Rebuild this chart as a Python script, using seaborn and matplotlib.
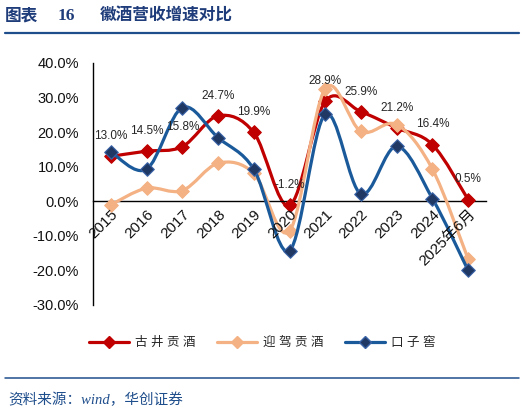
import numpy as np
import pandas as pd
import matplotlib
matplotlib.use("Agg")
import matplotlib.pyplot as plt
import seaborn as sns
from matplotlib.path import Path
from matplotlib.patches import PathPatch
from matplotlib.lines import Line2D

categories = ["2015", "2016", "2017", "2018", "2019", "2020", "2021", "2022", "2023", "2024", "2025年6月"]
gujing = [13.0, 14.5, 15.8, 24.7, 19.9, -1.2, 28.9, 25.9, 21.2, 16.4, 0.5]
yingjia = [-1.0, 3.8, 3.1, 11.0, 8.1, -8.6, 32.6, 20.2, 22.2, 9.3, -16.7]
kouzijiao = [14.3, 9.3, 27.1, 18.4, 9.3, -14.3, 25.2, 2.1, 15.9, 0.8, -20.0]
series_names = ["古井贡酒", "迎驾贡酒", "口子窖"]
yticks = [-30, -20, -10, 0, 10, 20, 30, 40]

sns.set_theme(style="white")
plt.rcParams["font.family"] = ["Liberation Sans", "Noto Sans CJK SC"]

df = pd.DataFrame({
    "x": list(range(len(categories))) * 3,
    "value": gujing + yingjia + kouzijiao,
    "series": [series_names[0]] * 11 + [series_names[1]] * 11 + [series_names[2]] * 11,
})

line_colors = {"古井贡酒": "#C00000", "迎驾贡酒": "#F4B183", "口子窖": "#1B5A9A"}
marker_colors = {"古井贡酒": "#C00000", "迎驾贡酒": "#F4B183", "口子窖": "#1F3864"}
marker_edges = {"古井贡酒": "#C00000", "迎驾贡酒": "#F4B183", "口子窖": "#3A64A8"}

fig = plt.figure(figsize=(5.24, 4.13), dpi=100)
ax = fig.add_axes([93 / 524, 1 - 305 / 413, (486 - 93) / 524, (305 - 63) / 413])


def smooth_path(xs, ys):
    pts = np.column_stack([xs, ys]).astype(float)
    n = len(pts)
    verts = [pts[0]]
    codes = [Path.MOVETO]
    for i in range(n - 1):
        p0 = pts[i - 1] if i > 0 else pts[i]
        p1 = pts[i]
        p2 = pts[i + 1]
        p3 = pts[i + 2] if i + 2 < n else pts[i + 1]
        c1 = p1 + (p2 - p0) / 6.0
        c2 = p2 - (p3 - p1) / 6.0
        verts += [c1, c2, p2]
        codes += [Path.CURVE4] * 3
    return Path(verts, codes)


for z, name in enumerate(series_names):
    sub = df[df["series"] == name]
    patch = PathPatch(smooth_path(sub["x"].values, sub["value"].values), facecolor="none",
                      edgecolor=line_colors[name], lw=2.3, zorder=2 + 2 * z, capstyle="round")
    ax.add_patch(patch)
    sns.scatterplot(data=sub, x="x", y="value", marker="D", s=48, color=marker_colors[name],
                    edgecolor=marker_edges[name], linewidth=0.8, zorder=3 + 2 * z, ax=ax, legend=False)

for xi, v in enumerate(gujing):
    ax.annotate(f"{v:.1f}%", (xi, v), xytext=(0, 14.5), textcoords="offset points",
                ha="center", va="center", fontsize=8.5, color="#262626", zorder=10)

ax.set_xlabel("")
ax.set_ylabel("")
ax.grid(False)
for s in ["top", "right"]:
    ax.spines[s].set_visible(False)
ax.spines["bottom"].set_position(("data", 0))
for s in ["left", "bottom"]:
    ax.spines[s].set_color("black")
    ax.spines[s].set_linewidth(1.0)
ax.patch.set_alpha(0)
ax.xaxis.set_zorder(9)

ax.set_xlim(-0.5, len(categories) - 0.5)
ax.set_ylim(-30, 40)
ax.set_yticks(yticks)
ax.set_yticklabels([f"{t:.1f}%" for t in yticks], fontsize=10.5, color="#111111")
ax.set_xticks(range(len(categories)))
ax.set_xticklabels(categories, fontsize=11, color="#111111")
for lab in ax.get_xticklabels():
    lab.set_rotation(45)
    lab.set_ha("right")
    lab.set_va("top")
    lab.set_rotation_mode("anchor")
ax.set_xticks(np.arange(-0.5, len(categories), 1.0), minor=True)
ax.tick_params(axis="x", which="major", length=0, pad=4)
ax.tick_params(axis="x", which="minor", direction="in", length=4, width=1, color="black")
ax.tick_params(axis="y", which="major", direction="in", length=4, width=1, color="black", pad=10)

handles = [Line2D([], [], color=line_colors[n], lw=2.3, marker="D", markersize=6,
                  markerfacecolor=marker_colors[n], markeredgecolor=marker_edges[n]) for n in series_names]
fig.legend(handles, [" ".join(n) for n in series_names], loc="center", bbox_to_anchor=(0.5, 1 - 343 / 413),
           ncol=3, frameon=False, fontsize=9, handlelength=3.2, handletextpad=0.5, columnspacing=1.7)

title_color = "#1F3C7A"
fig.text(5 / 524, 1 - 16 / 413, "图表", fontsize=12, fontweight="bold", color=title_color,
         family=["Noto Sans CJK SC"], va="center", ha="left")
fig.text(58 / 524, 1 - 16 / 413, "16", fontsize=12.5, fontweight="bold", color=title_color,
         family=["Liberation Serif"], va="center", ha="left")
fig.text(100 / 524, 1 - 16 / 413, "徽酒营收增速对比", fontsize=12, fontweight="bold", color=title_color,
         family=["Noto Sans CJK SC"], va="center", ha="left")
fig.add_artist(Line2D([5 / 524, 519 / 524], [1 - 33 / 413, 1 - 33 / 413], color="#1F4E8C", lw=1.6,
                      transform=fig.transFigure))
fig.add_artist(Line2D([5 / 524, 519 / 524], [1 - 378 / 413, 1 - 378 / 413], color="#1F4E8C", lw=1.1,
                      transform=fig.transFigure))
fig.text(8 / 524, 1 - 400 / 413, "资料来源：wind，华创证券", fontsize=10.5, style="italic",
         color="#1F4E8C", family=["Liberation Serif", "Noto Sans CJK SC"], va="center", ha="left")

fig.savefig("out.png", dpi=100)
